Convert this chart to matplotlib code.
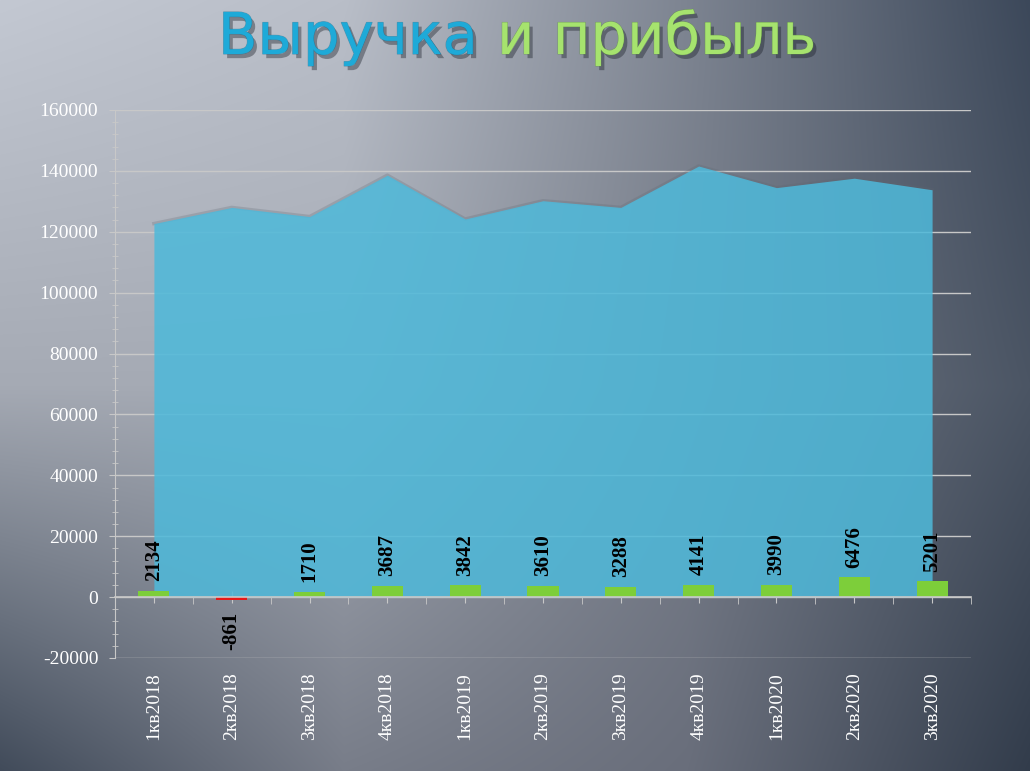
import numpy as np
import matplotlib
matplotlib.use("Agg")
import matplotlib.pyplot as plt
import matplotlib.patheffects as pe
from matplotlib.ticker import MultipleLocator
from matplotlib.transforms import blended_transform_factory

plt.rcParams["axes.unicode_minus"] = False

quarters = ["1кв2018", "2кв2018", "3кв2018", "4кв2018", "1кв2019", "2кв2019",
            "3кв2019", "4кв2019", "1кв2020", "2кв2020", "3кв2020"]
revenue = [122700, 128000, 125000, 138600, 124200, 130200,
           128000, 141600, 134500, 137600, 133800]
profit = [2134, -861, 1710, 3687, 3842, 3610, 3288, 4141, 3990, 6476, 5201]

W, H = 1030, 771
fig = plt.figure(figsize=(W / 100, H / 100), dpi=100)

# background: coarse colour grid, bilinearly stretched over the figure
grid = np.array([
    [(195, 200, 210), (185, 190, 200), (125, 132, 145), (60, 72, 90)],
    [(165, 170, 180), (165, 170, 180), (120, 126, 138), (75, 85, 100)],
    [(65, 75, 90), (120, 125, 137), (105, 110, 123), (50, 60, 75)],
]) / 255
gy = np.linspace(0, H, grid.shape[0])
gx = np.linspace(0, W, grid.shape[1])
px = np.arange(W)
py = np.arange(H)
rows = np.stack([[np.interp(px, gx, grid[r, :, k]) for k in range(3)]
                 for r in range(grid.shape[0])])          # (3 rows, 3 ch, W)
bg = np.empty((H, W, 3))
for k in range(3):
    for c in range(W):
        bg[:, c, k] = np.interp(py, gy, rows[:, k, c])
bgax = fig.add_axes([0, 0, 1, 1], zorder=-1)
bgax.imshow(bg, aspect="auto", extent=(0, 1, 0, 1))
bgax.axis("off")

ax = fig.add_axes([115 / W, 1 - 658 / H, (971 - 115) / W, (658 - 110) / H])
ax.patch.set_alpha(0)

x = np.arange(len(quarters))
grid_c = "#c8c8c8"

# revenue area with a soft grey edge
ax.plot(x, revenue, color="#5e6670", lw=2.5, alpha=0.25, zorder=2)
ax.fill_between(x, 0, revenue, color="#4eb9da", alpha=0.86, lw=0, zorder=3)

# profit bars
bar_cols = ["#7dce3a" if v >= 0 else "#e81818" for v in profit]
ax.bar(x, profit, width=0.4, color=bar_cols, zorder=4)
for xi, v in zip(x, profit):
    off = 7 if v >= 0 else -9
    ax.annotate(str(v), (xi, v), xytext=(0, off), textcoords="offset points",
                rotation=90, ha="center", va="bottom" if v >= 0 else "top",
                fontsize=15, fontweight="bold", family="Liberation Serif",
                color="black", zorder=6)

ax.set_xlim(-0.5, len(quarters) - 0.5)
ax.set_ylim(-20000, 160000)
ax.yaxis.set_major_locator(MultipleLocator(20000))
ax.yaxis.set_minor_locator(MultipleLocator(4000))
ax.grid(axis="y", color=grid_c, lw=1, zorder=1)
ax.set_axisbelow(True)

for s in ["top", "right"]:
    ax.spines[s].set_visible(False)
ax.spines["left"].set_color(grid_c)
ax.spines["bottom"].set_position(("data", 0))
ax.spines["bottom"].set_color(grid_c)
ax.spines["bottom"].set_linewidth(1.2)
ax.spines["bottom"].set_zorder(5)

ax.tick_params(axis="y", which="major", direction="out", length=4, color=grid_c,
               labelcolor="white", labelsize=14, pad=8)
ax.tick_params(axis="y", which="minor", direction="inout", length=5, color=grid_c)
for lab in ax.get_yticklabels():
    lab.set_family("Liberation Serif")

ax.set_xticks(x)
ax.set_xticks(np.arange(len(quarters) + 1) - 0.5, minor=True)
ax.tick_params(axis="x", which="major", direction="inout", length=8, color=grid_c,
               labelbottom=False)
ax.tick_params(axis="x", which="minor", direction="out", length=5, color=grid_c)

tr = blended_transform_factory(ax.transData, ax.transAxes)
for xi, q in zip(x, quarters):
    ax.text(xi, -0.026, q, transform=tr, rotation=90, ha="center", va="top",
            fontsize=14, family="Liberation Serif", color="white")

# title
shadow = [pe.SimplePatchShadow(offset=(2.5, -3), shadow_rgbFace="#1a1f28", alpha=0.4),
          pe.Stroke(linewidth=0.8, foreground="#0b6f95", alpha=0.5),
          pe.Normal()]
shadow_g = [pe.SimplePatchShadow(offset=(2.5, -3), shadow_rgbFace="#1a1f28", alpha=0.4),
            pe.Stroke(linewidth=0.8, foreground="#5f9a3a", alpha=0.5),
            pe.Normal()]
fig.text(478 / W, 1 - 54 / H, "Выручка", ha="right", va="baseline",
         fontsize=41.5, family="DejaVu Sans", color="#1eaad8", path_effects=shadow)
fig.text(497 / W, 1 - 54 / H, "и прибыль", ha="left", va="baseline",
         fontsize=41.5, family="DejaVu Sans", color="#a6e36e", path_effects=shadow_g)

fig.savefig("out.png", dpi=100)
